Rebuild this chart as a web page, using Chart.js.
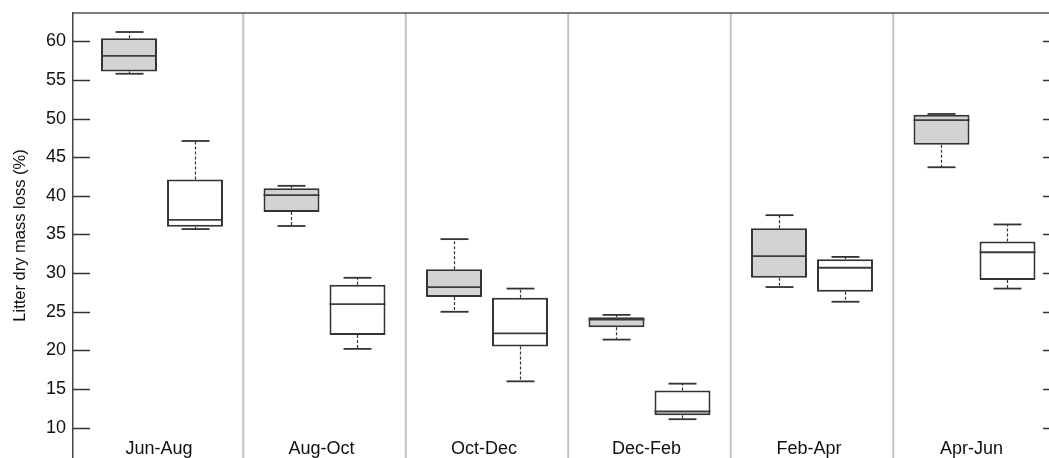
<!DOCTYPE html>
<html>
<head>
<meta charset="utf-8">
<script src="https://cdn.jsdelivr.net/npm/chart.js@4"></script>
<style>
  html, body { margin: 0; padding: 0; background: #fff; }
  #wrap { width: 1049px; height: 458px; }
</style>
</head>
<body>
<div id="wrap"><canvas id="boxChart"></canvas></div>
<script>
const periods = ['Jun-Aug', 'Aug-Oct', 'Oct-Dec', 'Dec-Feb', 'Feb-Apr', 'Apr-Jun'];

// grey boxes (first of each pair)
const grayMin = [55.8, 36.1, 25.0, 21.4, 28.2, 43.7];
const grayQ1  = [56.1, 37.9, 26.9, 23.0, 29.4, 46.6];
const grayMed = [58.1, 40.1, 28.2, 24.0, 32.2, 49.8];
const grayQ3  = [60.4, 41.0, 30.5, 24.3, 35.8, 50.5];
const grayMax = [61.2, 41.3, 34.4, 24.6, 37.5, 50.6];

// white boxes (second of each pair)
const whiteMin = [35.7, 20.2, 16.0, 11.1, 26.3, 28.0];
const whiteQ1  = [36.0, 22.0, 20.5, 11.6, 27.6, 29.1];
const whiteMed = [36.9, 26.0, 22.2, 12.1, 30.7, 32.7];
const whiteQ3  = [42.1, 28.5, 26.8, 14.8, 31.8, 34.1];
const whiteMax = [47.1, 29.4, 28.0, 15.7, 32.1, 36.3];

const yTicks = [10, 15, 20, 25, 30, 35, 40, 45, 50, 55, 60];

const FONT = "'Liberation Sans', Arial, sans-serif";

function seg(ctx, x1, y1, x2, y2) {
    ctx.beginPath();
    ctx.moveTo(x1, y1);
    ctx.lineTo(x2, y2);
    ctx.stroke();
}

const boxParts = {
    id: 'boxParts',
    beforeDatasetsDraw(chart) {
        const { ctx, chartArea: a, scales: { x } } = chart;
        ctx.save();
        ctx.strokeStyle = '#c4c4c4';
        ctx.lineWidth = 2;
        for (let i = 1; i < periods.length; i++) {
            const px = x.getPixelForValue(i + 0.5);
            seg(ctx, px, a.top, px, a.bottom);
        }
        ctx.restore();
    },
    afterDatasetsDraw(chart) {
        const { ctx, chartArea: a, scales: { x, y } } = chart;
        const stats = [
            [grayMin, grayQ1, grayMed, grayQ3, grayMax],
            [whiteMin, whiteQ1, whiteMed, whiteQ3, whiteMax]
        ];
        ctx.save();
        stats.forEach((s, d) => {
            chart.getDatasetMeta(d).data.forEach((bar, i) => {
                const cx = Math.round(bar.x) + 0.5;
                const hw = bar.width / 2;
                const yMin = y.getPixelForValue(s[0][i]);
                const yQ1 = y.getPixelForValue(s[1][i]);
                const yMed = y.getPixelForValue(s[2][i]);
                const yQ3 = y.getPixelForValue(s[3][i]);
                const yMax = y.getPixelForValue(s[4][i]);
                // whiskers
                ctx.strokeStyle = '#333';
                ctx.lineWidth = 1.2;
                ctx.setLineDash([3, 2]);
                seg(ctx, cx, yQ3, cx, yMax);
                seg(ctx, cx, yQ1, cx, yMin);
                ctx.setLineDash([]);
                // caps
                ctx.lineWidth = 1.8;
                seg(ctx, cx - hw / 2, yMax, cx + hw / 2, yMax);
                seg(ctx, cx - hw / 2, yMin, cx + hw / 2, yMin);
                // median
                ctx.strokeStyle = '#3c3c3c';
                seg(ctx, bar.x - hw, yMed, bar.x + hw, yMed);
            });
        });

        // top border
        ctx.strokeStyle = '#555';
        ctx.lineWidth = 1.5;
        seg(ctx, a.left, a.top, a.right, a.top);

        // inward ticks, left and right
        ctx.strokeStyle = '#333';
        yTicks.forEach(v => {
            const py = Math.round(y.getPixelForValue(v)) + 0.5;
            seg(ctx, a.left, py, a.left + 17, py);
            seg(ctx, a.right - 6, py, a.right, py);
        });

        // period labels inside the plot
        ctx.fillStyle = '#111';
        ctx.font = '18px ' + FONT;
        ctx.textAlign = 'center';
        ctx.textBaseline = 'alphabetic';
        periods.forEach((p, i) => {
            ctx.fillText(p, x.getPixelForValue(i + 1) - 3, 454);
        });
        ctx.restore();
    }
};

const ctx = document.getElementById('boxChart').getContext('2d');

new Chart(ctx, {
    type: 'bar',
    data: {
        datasets: [{
            label: 'grey',
            data: periods.map((p, i) => ({ x: i + 1, y: [grayQ1[i], grayQ3[i]] })),
            backgroundColor: '#d3d3d3',
            borderColor: '#333',
            borderWidth: 2,
            borderSkipped: false
        }, {
            label: 'white',
            data: periods.map((p, i) => ({ x: i + 1, y: [whiteQ1[i], whiteQ3[i]] })),
            backgroundColor: '#ffffff',
            borderColor: '#333',
            borderWidth: 2,
            borderSkipped: false
        }]
    },
    options: {
        animation: false,
        responsive: true,
        maintainAspectRatio: false,
        categoryPercentage: 0.8123,
        barPercentage: 0.848,
        layout: { padding: { top: 13, right: 0, bottom: 0, left: 0 } },
        scales: {
            x: {
                type: 'linear',
                display: false,
                offset: false,
                min: 0.4523,
                max: 6.4585,
                afterBuildTicks: scale => {
                    scale.ticks = periods.map((p, i) => ({ value: i + 1 }));
                }
            },
            y: {
                min: 6.08,
                max: 63.66,
                afterBuildTicks: scale => {
                    scale.ticks = yTicks.map(v => ({ value: v }));
                },
                afterFit: scale => {
                    scale.width = 73;
                    scale.paddingTop = 0;
                    scale.paddingBottom = 0;
                },
                grid: { display: false, drawTicks: false },
                border: { display: true, color: '#444', width: 1.5 },
                ticks: {
                    padding: 7,
                    color: '#111',
                    font: { family: FONT, size: 18 }
                },
                title: {
                    display: true,
                    text: 'Litter dry mass loss (%)',
                    color: '#111',
                    font: { family: FONT, size: 16.5 },
                    padding: { top: 11, bottom: 0 }
                }
            }
        },
        plugins: {
            legend: { display: false },
            tooltip: { enabled: false }
        }
    },
    plugins: [boxParts]
});
</script>
</body>
</html>
